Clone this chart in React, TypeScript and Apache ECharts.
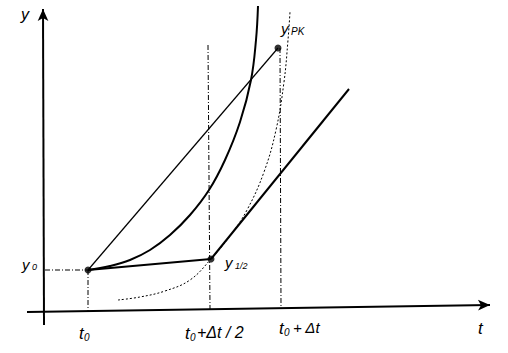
import React, { useEffect, useRef } from "react";
import * as echarts from "echarts";

// Diagram coordinates (t to the right, y downward-scaled as in the scan; inverse y axis)
const exactCurve: [number, number][] = [
  [88, 270], [110, 266], [130, 260], [150, 250], [170, 235], [190, 215],
  [209, 190], [225, 160], [240, 122], [251, 80], [256, 40], [258, 6],
];
const midCurve: [number, number][] = [
  [118, 300], [140, 297], [165, 291], [190, 280], [211, 259], [230, 236],
  [247, 210], [264, 172], [276, 130], [284, 82], [288, 40], [290, 12],
];
const y0Point: [number, number] = [88, 270];
const yHalfPoint: [number, number] = [211, 259];
const yPKPoint: [number, number] = [278, 48];
const tangentEnd: [number, number] = [349, 89];
const chord: [number, number][] = [y0Point, yPKPoint];
const euler: [number, number][] = [y0Point, yHalfPoint];
const tangent: [number, number][] = [yHalfPoint, tangentEnd];
const tAxis: [number, number][] = [[27, 312], [490, 305]];
const yAxisLine: [number, number][] = [[44, 325], [43, 9]];
const guides: [number, number][][] = [
  [[45, 270], [88, 270]],
  [[88, 270], [88, 311]],
  [[208, 45], [210, 309]],
  [[280, 48], [281, 307]],
];

export default function App() {
  const ref = useRef<HTMLDivElement>(null);
  useEffect(() => {
    if (!ref.current) return;
    const chart = echarts.init(ref.current, null, { renderer: "svg" });
    const ink = "#000";
    const lineSeries = (data: [number, number][], width: number, type: any = "solid", smooth: any = false) => ({
      type: "line",
      data,
      smooth,
      symbol: "none",
      silent: true,
      lineStyle: { color: ink, width, type },
      z: 3,
    });
    const font = "'Liberation Sans', Arial, sans-serif";
    const txt = (text: string, x: number, y: number, size = 15) => ({
      type: "text",
      x,
      y,
      style: { text, fontSize: size, fontStyle: "italic", fontFamily: font, fill: ink },
    });
    chart.setOption({
      animation: false,
      backgroundColor: "#fff",
      grid: { left: 0, right: 0, top: 0, bottom: 0 },
      xAxis: { type: "value", min: 0, max: 508, show: false },
      yAxis: { type: "value", min: 0, max: 353, inverse: true, show: false },
      series: [
        lineSeries(exactCurve, 2, "solid", 0.4),
        lineSeries(midCurve, 1, [2, 2], 0.4),
        lineSeries(chord, 1.2),
        lineSeries(euler, 2),
        lineSeries(tangent, 2),
        ...guides.map((g) => lineSeries(g, 1, [5, 2, 1, 2])),
        {
          type: "line",
          data: [],
          silent: true,
          markLine: {
            silent: true,
            symbol: ["none", "arrow"],
            symbolSize: [8, 12],
            label: { show: false },
            lineStyle: { color: ink, width: 2, type: "solid" },
            data: [
              [{ coord: tAxis[0] }, { coord: tAxis[1] }],
              [{ coord: yAxisLine[0] }, { coord: yAxisLine[1] }],
            ],
          },
        },
        {
          type: "scatter",
          data: [y0Point, yHalfPoint, yPKPoint],
          symbolSize: 7,
          itemStyle: { color: ink },
          silent: true,
          z: 5,
        },
      ],
      graphic: [
        txt("y", 21, 6, 16),
        txt("y", 22, 257, 15),
        txt("0", 32, 262, 9),
        txt("y", 225, 255, 15),
        txt("1/2", 235, 261, 9),
        txt("y", 281, 21, 15),
        txt("PK", 291, 26, 10),
        txt("t", 79, 325, 17),
        txt("0", 84, 332, 10),
        txt("t", 185, 325, 17),
        txt("0", 190, 332, 10),
        txt("+Δt / 2", 197, 324, 16),
        txt("t", 279, 320, 17),
        txt("0", 284, 327, 10),
        txt("+ Δt", 293, 320, 15),
        txt("t", 478, 320, 17),
      ],
    });
    return () => chart.dispose();
  }, []);
  return <div ref={ref} style={{ width: 508, height: 353, position: "fixed", left: 0, top: 0 }} />;
}
